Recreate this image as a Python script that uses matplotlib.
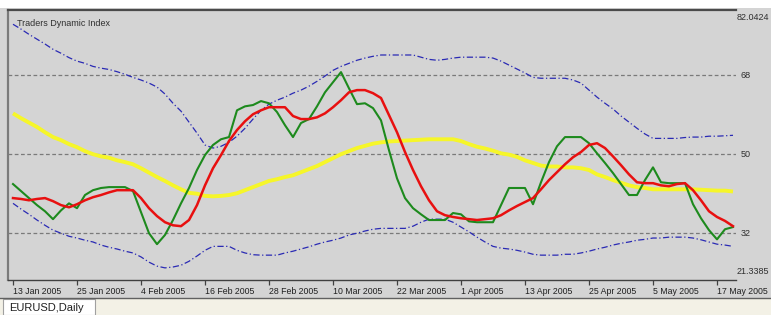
#!/usr/bin/env python3
# Traders Dynamic Index on EURUSD daily, redrawn in MetaTrader style

import numpy as np
import matplotlib.pyplot as plt
from matplotlib.patches import Rectangle
from matplotlib.lines import Line2D
import matplotlib.transforms as mtransforms

# one value per daily bar, 13 Jan 2005 .. 19 May 2005
upper_band = [79.6, 78.5, 77.3, 76.2, 75.1, 73.9, 73.0, 72.0, 71.2, 70.7,
              70.0, 69.6, 69.3, 68.8, 68.2, 67.5, 66.9, 66.2, 65.3, 63.7,
              61.6, 59.8, 57.3, 54.8, 52.1, 51.4, 51.8, 52.7, 54.1, 55.9,
              58.0, 60.0, 61.4, 62.3, 63.0, 63.9, 64.6, 65.5, 66.6, 67.8,
              69.1, 70.0, 70.7, 71.4, 71.9, 72.3, 72.6, 72.6, 72.6, 72.6,
              72.6, 72.1, 71.6, 71.4, 71.6, 71.9, 72.1, 72.1, 72.1, 72.1,
              71.9, 71.2, 70.3, 69.4, 68.5, 67.5, 67.3, 67.3, 67.3, 67.3,
              66.9, 66.2, 64.6, 63.0, 61.6, 60.3, 58.7, 57.3, 55.9, 54.6,
              53.6, 53.6, 53.6, 53.6, 53.8, 53.9, 53.9, 54.1, 54.1, 54.2,
              54.3]
lower_band = [38.8, 37.5, 36.3, 35.0, 33.8, 32.7, 32.0, 31.3, 30.9, 30.4,
              30.0, 29.3, 28.8, 28.4, 27.9, 27.5, 26.6, 25.4, 24.5, 24.1,
              24.3, 24.7, 25.6, 26.8, 28.1, 29.0, 29.0, 29.0, 28.1, 27.5,
              27.1, 27.0, 27.0, 27.0, 27.5, 27.9, 28.4, 28.9, 29.5, 30.0,
              30.4, 30.9, 31.6, 32.0, 32.5, 32.9, 33.1, 33.1, 33.1, 33.1,
              33.6, 34.5, 35.2, 35.2, 35.2, 34.5, 33.4, 32.3, 31.1, 30.0,
              29.0, 28.6, 28.4, 28.1, 27.7, 27.2, 27.0, 27.0, 27.0, 27.2,
              27.2, 27.5, 27.9, 28.4, 28.8, 29.3, 29.7, 30.0, 30.4, 30.6,
              30.9, 30.9, 31.1, 31.1, 31.1, 30.9, 30.5, 30.0, 29.5, 29.3,
              29.0]
base_line = [59.3, 58.2, 57.2, 56.2, 55.0, 53.9, 53.2, 52.3, 51.6, 50.7,
             50.0, 49.5, 49.2, 48.6, 48.2, 47.7, 46.8, 45.8, 44.8, 43.9,
             42.9, 42.0, 41.2, 41.0, 40.5, 40.4, 40.5, 40.7, 41.1, 41.8,
             42.5, 43.2, 43.9, 44.3, 44.8, 45.2, 45.9, 46.6, 47.3, 48.2,
             49.1, 50.0, 50.7, 51.4, 51.9, 52.4, 52.7, 52.9, 53.0, 53.1,
             53.2, 53.3, 53.4, 53.4, 53.4, 53.4, 53.0, 52.3, 51.7, 51.3,
             50.8, 50.2, 49.9, 49.4, 48.6, 48.0, 47.4, 47.2, 47.2, 47.0,
             47.0, 46.8, 46.4, 45.4, 44.8, 44.1, 43.5, 42.9, 42.5, 42.3,
             42.0, 42.0, 42.0, 42.0, 42.0, 42.0, 41.9, 41.8, 41.7, 41.7,
             41.5]
price_line = [43.2, 41.6, 40.0, 38.4, 37.0, 35.2, 37.2, 38.8, 37.7, 40.7,
              41.8, 42.3, 42.5, 42.5, 42.5, 41.6, 36.8, 32.0, 29.5, 31.6,
              35.0, 38.8, 42.3, 46.4, 49.8, 52.1, 53.4, 53.9, 60.0, 60.9,
              61.2, 62.1, 61.6, 59.6, 56.6, 53.9, 57.1, 58.0, 60.9, 64.1,
              66.4, 68.7, 65.0, 61.4, 61.6, 60.5, 57.7, 50.9, 44.5, 40.0,
              37.7, 36.3, 35.0, 35.0, 35.0, 36.6, 36.3, 34.7, 34.5, 34.5,
              34.5, 38.4, 42.3, 42.3, 42.3, 38.6, 43.6, 48.2, 51.8, 53.9,
              53.9, 53.9, 52.5, 50.2, 48.0, 45.7, 43.2, 40.7, 40.7, 44.1,
              47.0, 43.6, 43.4, 43.4, 43.4, 38.6, 35.4, 32.7, 30.6, 32.9,
              33.4]
signal_line = [40.0, 39.8, 39.5, 39.8, 40.0, 39.3, 38.4, 37.9, 38.6, 39.5,
               40.2, 40.7, 41.3, 41.8, 41.8, 41.8, 40.0, 37.7, 35.9, 34.5,
               33.8, 33.6, 35.0, 38.4, 42.9, 46.8, 49.8, 53.0, 55.5, 57.5,
               59.1, 60.0, 60.7, 60.7, 60.7, 58.7, 58.0, 58.0, 58.4, 59.3,
               60.7, 62.3, 64.1, 64.6, 64.6, 63.9, 62.8, 58.9, 55.0, 50.5,
               46.4, 42.7, 39.5, 37.0, 36.1, 35.7, 35.4, 35.2, 35.0, 35.2,
               35.4, 36.1, 37.2, 38.2, 39.1, 40.0, 42.0, 44.1, 45.9, 47.7,
               49.3, 50.5, 52.1, 52.5, 51.4, 49.5, 47.5, 45.4, 43.6, 43.4,
               43.4, 42.9, 42.7, 43.2, 43.4, 41.8, 39.5, 37.0, 35.7, 34.8,
               33.6]

# date labels, one every 8 bars
date_labels = ['13 Jan 2005', '25 Jan 2005', '4 Feb 2005', '16 Feb 2005',
               '28 Feb 2005', '10 Mar 2005', '22 Mar 2005', '1 Apr 2005',
               '13 Apr 2005', '25 Apr 2005', '5 May 2005', '17 May 2005']
levels = [68, 50, 32]
scale_max = 82.0424
scale_min = 21.3385

W, H = 771, 315
BG = '#d4d4d4'
FONT = 'Liberation Sans'


def fx(px):
    return px / W


def fy(py):
    return 1 - py / H


def main():
    fig = plt.figure(figsize=(W / 100, H / 100), dpi=100, facecolor=BG)

    # white strip on top, tab bar at the bottom
    fig.add_artist(Rectangle((0, fy(8)), 1, 8 / H, transform=fig.transFigure,
                             facecolor='white', edgecolor='none'))
    fig.add_artist(Rectangle((0, 0), 1, fy(298), transform=fig.transFigure,
                             facecolor='#f3f1e6', edgecolor='none'))
    fig.add_artist(Line2D([0, 1], [fy(298), fy(298)], transform=fig.transFigure,
                          color='#606060', lw=1))
    fig.add_artist(Rectangle((fx(3), 0), fx(92), fy(299), transform=fig.transFigure,
                             facecolor='white', edgecolor='#a0a0a0', lw=0.8))
    fig.text(fx(9), fy(308), 'EURUSD,Daily', fontsize=8, family=FONT,
             color='#202020', va='center', ha='left')

    ax = fig.add_axes([fx(8), fy(280), (736 - 8) / W, (280 - 10) / H])
    ax.set_facecolor(BG)

    x = np.arange(len(price_line))
    ax.set_xlim((8 - 13) / 8, (736 - 13) / 8)
    ax.set_ylim(scale_min, 82.85)

    # levels
    for lv in levels:
        ax.axhline(lv, color='#7a7a7a', lw=0.9, ls=(0, (3, 2)), zorder=1)

    band_style = dict(color='#2a2ab4', lw=0.9, ls=(0, (5, 2, 1, 2)), zorder=2)
    ax.plot(x, upper_band, **band_style)
    ax.plot(x, lower_band, **band_style)
    ax.plot(x, base_line, color='#f6f629', lw=2.8, zorder=3, solid_capstyle='butt')
    ax.plot(x, price_line, color='#1d8a1d', lw=1.5, zorder=4)
    ax.plot(x, signal_line, color='#e81010', lw=1.8, zorder=5)

    ax.text(0.012, 0.965, 'Traders Dynamic Index', transform=ax.transAxes,
            fontsize=6.5, family=FONT, color='#303030', va='top', ha='left')

    # right scale labels
    tr = mtransforms.blended_transform_factory(ax.transAxes, ax.transData)
    for lv in levels:
        ax.text(1.006, lv, str(lv), transform=tr, fontsize=6.5, family=FONT,
                color='#303030', va='center', ha='left', clip_on=False)
    fig.text(fx(737), fy(17), '%.4f' % scale_max, fontsize=6.5, family=FONT,
             color='#303030', va='center', ha='left')
    fig.text(fx(737), fy(272), '%.4f' % scale_min, fontsize=6.5, family=FONT,
             color='#303030', va='center', ha='left')

    # spines
    ax.spines['right'].set_visible(False)
    ax.spines['top'].set_color('#4a4a4a')
    ax.spines['top'].set_linewidth(1.6)
    ax.spines['left'].set_color('#7a7a7a')
    ax.spines['left'].set_linewidth(1.6)
    ax.spines['bottom'].set_color('#404040')
    ax.spines['bottom'].set_linewidth(1.0)

    ax.set_yticks([])
    ax.set_xticks(np.arange(len(date_labels)) * 8)
    ax.set_xticklabels(date_labels, ha='left', fontsize=6.3, family=FONT,
                       color='#202020')
    ax.tick_params(axis='x', direction='out', length=3.5, width=0.9,
                   color='#404040', pad=1.5)

    fig.savefig('out.png', dpi=100, facecolor=fig.get_facecolor())


if __name__ == '__main__':
    main()
